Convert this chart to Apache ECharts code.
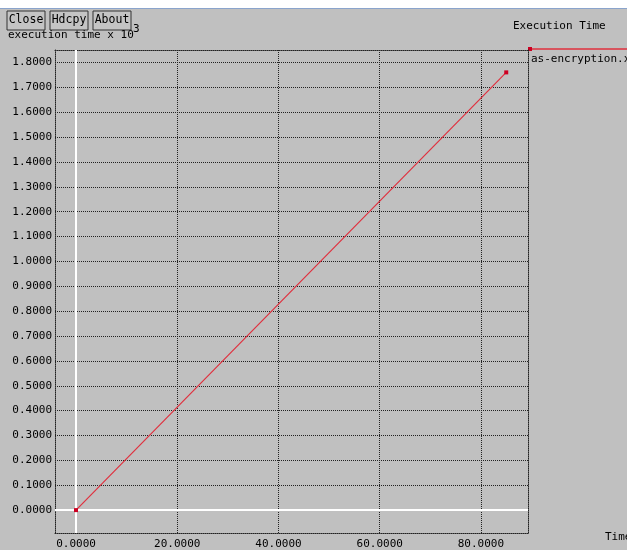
<!DOCTYPE html>
<html>
<head>
<meta charset="utf-8">
<title>Execution Time</title>
<script src="https://cdn.jsdelivr.net/npm/echarts@6/dist/echarts.min.js"></script>
<style>
  html, body { margin: 0; padding: 0; background: #c0c0c0; }
  #chart { width: 627px; height: 550px; }
</style>
</head>
<body>
<div id="chart"></div>
<script>
// data (execution time in units of 10^3)
const seriesName = 'as-encryption.xg';
const timeValues = [0, 85];
const execValues = [0, 1.76];

// tick labels
const xTicks = [0, 20, 40, 60, 80];
const yTicks = [0, 0.1, 0.2, 0.3, 0.4, 0.5, 0.6, 0.7, 0.8, 0.9, 1.0, 1.1, 1.2, 1.3, 1.4, 1.5, 1.6, 1.7, 1.8];

const buttonLabels = ['Close', 'Hdcpy', 'About'];

const monoFont = '"DejaVu Sans Mono", "Liberation Mono", monospace';
const gridLine = { color: '#222', width: 1, type: [1, 1] };

function initChart() {
    const el = document.getElementById('chart');
    const chart = echarts.init(el, null, { renderer: 'canvas' });

    // top window strip + xgraph buttons
    const graphics = [
        { type: 'rect', shape: { x: 0, y: 0, width: 627, height: 8 }, style: { fill: '#ffffff' }, silent: true },
        { type: 'rect', shape: { x: 0, y: 8, width: 627, height: 1 }, style: { fill: '#8aa4cc' }, silent: true }
    ];
    const btnX = [7, 50, 93];
    buttonLabels.forEach((label, i) => {
        graphics.push({
            type: 'rect',
            shape: { x: btnX[i], y: 11, width: 38, height: 19 },
            style: { fill: '#c4c4c4', stroke: '#333', lineWidth: 1 },
            silent: true
        });
        graphics.push({
            type: 'text',
            x: btnX[i] + 19,
            y: 20,
            style: { text: label, fill: '#000', font: '11.5px ' + monoFont, align: 'center', verticalAlign: 'middle' },
            silent: true
        });
    });
    // legend swatch line above legend text
    graphics.push({
        type: 'line',
        shape: { x1: 529, y1: 49, x2: 627, y2: 49 },
        style: { stroke: '#e0303e', lineWidth: 1.5 },
        silent: true
    });
    graphics.push({
        type: 'rect',
        shape: { x: 528, y: 47, width: 4, height: 4 },
        style: { fill: '#cc0022' },
        silent: true
    });

    const titleText = { fontSize: 11, fontWeight: 'normal', color: '#000', fontFamily: monoFont };

    const option = {
        backgroundColor: '#c0c0c0',
        animation: false,
        textStyle: { fontFamily: monoFont },
        title: [
            { text: 'Execution Time', left: 513, top: 21, padding: 0, textStyle: titleText },
            { text: 'execution time x 10', left: 8, top: 30, padding: 0, textStyle: titleText },
            { text: '3', left: 133, top: 24, padding: 0, textStyle: titleText },
            { text: 'Time', left: 605, top: 532, padding: 0, textStyle: titleText }
        ],
        legend: {
            data: [seriesName],
            left: 521,
            top: 49,
            itemWidth: 0,
            itemHeight: 0,
            itemGap: 0,
            icon: 'rect',
            textStyle: { fontSize: 11, color: '#000', fontFamily: monoFont }
        },
        grid: { left: 55, top: 50, right: 99, bottom: 13 },
        xAxis: [
            {
                type: 'value',
                min: -4.15,
                max: 89.3,
                position: 'bottom',
                axisLine: { show: true, onZero: false, lineStyle: gridLine },
                axisTick: { show: false, customValues: xTicks },
                axisLabel: {
                    customValues: xTicks,
                    formatter: v => v.toFixed(4),
                    color: '#000',
                    fontSize: 11,
                    fontFamily: monoFont,
                    margin: 6
                },
                splitLine: { show: true, lineStyle: gridLine }
            },
            {
                type: 'value',
                min: -4.15,
                max: 89.3,
                position: 'top',
                axisLine: { show: true, onZero: false, lineStyle: gridLine },
                axisTick: { show: false },
                axisLabel: { show: false },
                splitLine: { show: false }
            }
        ],
        yAxis: [
            {
                type: 'value',
                min: -0.092,
                max: 1.85,
                position: 'left',
                axisLine: { show: true, onZero: false, lineStyle: gridLine },
                axisTick: { show: false, customValues: yTicks },
                axisLabel: {
                    customValues: yTicks,
                    formatter: v => v.toFixed(4),
                    color: '#000',
                    fontSize: 11,
                    fontFamily: monoFont,
                    margin: 3
                },
                splitLine: { show: true, lineStyle: gridLine }
            },
            {
                type: 'value',
                min: -0.092,
                max: 1.85,
                position: 'right',
                axisLine: { show: true, onZero: false, lineStyle: gridLine },
                axisTick: { show: false },
                axisLabel: { show: false },
                splitLine: { show: false }
            }
        ],
        series: [
            {
                name: seriesName,
                type: 'line',
                data: timeValues.map((t, i) => [t, execValues[i]]),
                symbol: 'rect',
                symbolSize: 4,
                showAllSymbol: true,
                lineStyle: { color: '#e0303e', width: 1.2 },
                itemStyle: { color: '#cc0022' },
                z: 5,
                markLine: {
                    silent: true,
                    symbol: 'none',
                    label: { show: false },
                    lineStyle: { color: '#ffffff', width: 2, type: 'solid' },
                    data: [{ xAxis: 0 }, { yAxis: 0 }],
                    z: 1
                }
            }
        ],
        graphic: graphics
    };

    chart.setOption(option);
}

initChart();
</script>
</body>
</html>
